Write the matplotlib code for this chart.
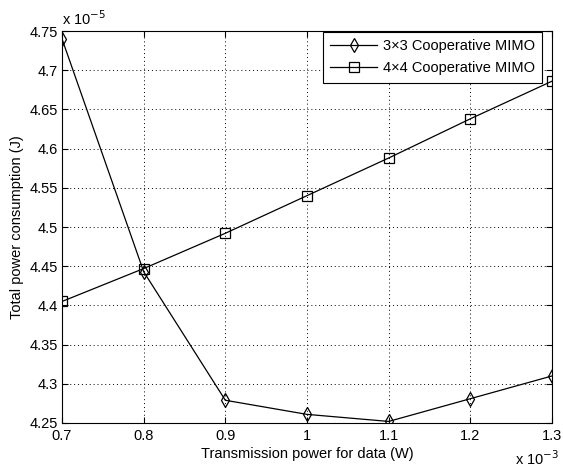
import numpy as np
import matplotlib.pyplot as plt
from matplotlib.ticker import FormatStrFormatter

plt.rcParams['font.family'] = ['Liberation Sans', 'DejaVu Sans']

# x in units of 1e-3 W, y in units of 1e-5 J
tx_power = [0.7, 0.8, 0.9, 1.0, 1.1, 1.2, 1.3]
mimo_3x3 = [4.740, 4.443, 4.279, 4.261, 4.252, 4.281, 4.310]
mimo_4x4 = [4.405, 4.447, 4.492, 4.540, 4.588, 4.638, 4.686]

fig = plt.figure(figsize=(5.63, 4.7), dpi=100)
ax = fig.add_axes([62 / 563, 1 - 423 / 470, 490 / 563, 392 / 470])

ax.plot(tx_power, mimo_3x3, color='black', lw=0.9, marker='d', ms=7.5,
        mfc='none', mec='black', mew=0.9, label='3×3 Cooperative MIMO')
ax.plot(tx_power, mimo_4x4, color='black', lw=0.9, marker='s', ms=6.5,
        mfc='none', mec='black', mew=0.9, label='4×4 Cooperative MIMO')

ax.set_xlim(0.7, 1.3)
ax.set_ylim(4.25, 4.75)
ax.set_xticks(np.arange(0.7, 1.31, 0.1))
ax.set_yticks(np.arange(4.25, 4.751, 0.05))
ax.xaxis.set_major_formatter(FormatStrFormatter('%g'))
ax.yaxis.set_major_formatter(FormatStrFormatter('%g'))
ax.tick_params(direction='in', labelsize=10.5, top=True, right=True, length=4)
ax.tick_params(axis='x', pad=4)
ax.tick_params(axis='y', pad=3)
ax.grid(True, color='black', linestyle=(0, (1, 3)), linewidth=0.7)

for s in ax.spines.values():
    s.set_linewidth(0.8)

ax.set_xlabel('Transmission power for data (W)', fontsize=10.5, labelpad=3)
ax.set_ylabel('Total power consumption (J)', fontsize=10.5, labelpad=4)

ax.text(0.0, 1.008, r'x 10$^{-5}$', transform=ax.transAxes, fontsize=10.5,
        ha='left', va='bottom')
ax.text(1.014, -0.068, r'x 10$^{-3}$', transform=ax.transAxes, fontsize=10.5,
        ha='right', va='top')

leg = ax.legend(loc='upper right', bbox_to_anchor=(0.98, 0.997),
                borderaxespad=0, fontsize=10.5, fancybox=False, framealpha=1,
                edgecolor='black', handlelength=3.2, handletextpad=0.4,
                labelspacing=0.55, borderpad=0.5)
leg.get_frame().set_linewidth(0.8)

fig.savefig('out.png', dpi=100)
